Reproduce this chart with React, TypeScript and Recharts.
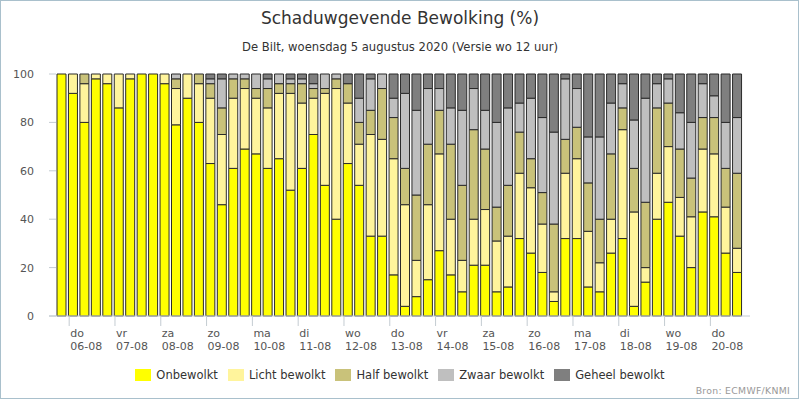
import { BarChart, Bar, XAxis, YAxis } from "recharts";

// 6-hourly forecast slots, 4 per day, 06-08 .. 20-08
const dayNames = ["do", "vr", "za", "zo", "ma", "di", "wo", "do", "vr", "za", "zo", "ma", "di", "wo", "do"];
const dayDates = ["06-08", "07-08", "08-08", "09-08", "10-08", "11-08", "12-08", "13-08", "14-08", "15-08", "16-08", "17-08", "18-08", "19-08", "20-08"];

const onbewolkt = [100, 92, 80, 98, 96, 86, 98, 100, 100, 96, 79, 90, 80, 63, 46, 61, 69, 67, 61, 65, 52, 61, 75, 54, 40, 63, 54, 33, 33, 17, 4, 8, 15, 27, 17, 10, 21, 21, 10, 12, 32, 26, 18, 6, 32, 32, 12, 10, 26, 32, 4, 14, 40, 47, 33, 20, 43, 41, 26, 18];
const lichtBewolkt = [0, 8, 16, 2, 4, 14, 2, 0, 0, 4, 15, 10, 16, 27, 29, 29, 25, 23, 25, 27, 40, 27, 15, 38, 54, 25, 17, 42, 40, 48, 42, 15, 31, 40, 23, 13, 19, 23, 21, 21, 27, 27, 20, 4, 27, 33, 23, 12, 14, 45, 39, 6, 19, 23, 16, 21, 26, 26, 19, 10];
const halfBewolkt = [0, 0, 4, 0, 0, 0, 0, 0, 0, 0, 4, 0, 4, 6, 11, 8, 4, 4, 8, 4, 4, 8, 4, 2, 4, 8, 9, 10, 21, 17, 15, 27, 25, 18, 31, 31, 37, 25, 14, 21, 17, 12, 13, 28, 14, 13, 20, 18, 27, 9, 18, 27, 27, 18, 20, 16, 13, 15, 16, 31];
const zwaarBewolkt = [0, 0, 0, 0, 0, 0, 0, 0, 0, 0, 2, 0, 0, 2, 12, 2, 2, 6, 4, 4, 2, 2, 2, 6, 2, 0, 10, 13, 6, 8, 31, 35, 23, 9, 15, 31, 17, 16, 35, 32, 12, 25, 31, 38, 25, 16, 19, 34, 21, 10, 20, 43, 10, 10, 15, 23, 14, 9, 19, 23];
const geheelBewolkt = [0, 0, 0, 0, 0, 0, 0, 0, 0, 0, 0, 0, 0, 2, 2, 0, 0, 0, 2, 0, 2, 2, 4, 0, 0, 4, 10, 2, 0, 10, 8, 15, 6, 6, 14, 15, 6, 15, 20, 14, 12, 10, 18, 24, 2, 6, 26, 26, 12, 4, 19, 10, 4, 2, 16, 20, 4, 9, 20, 18];

const yTicks = [0, 20, 40, 60, 80, 100];

const series = [
  { key: "onbewolkt", name: "Onbewolkt", color: "#ffff00" },
  { key: "licht", name: "Licht bewolkt", color: "#fff49c" },
  { key: "half", name: "Half bewolkt", color: "#c9c27a" },
  { key: "zwaar", name: "Zwaar bewolkt", color: "#bfbfbf" },
  { key: "geheel", name: "Geheel bewolkt", color: "#7f7f7f" },
];

const data = onbewolkt.map((v, i) => ({
  slot: i,
  onbewolkt: v,
  licht: lichtBewolkt[i],
  half: halfBewolkt[i],
  zwaar: zwaarBewolkt[i],
  geheel: geheelBewolkt[i],
}));

// first slot of each day carries the day label
const dayTicks = dayNames.map((_, d) => 1 + d * 4);

const FONT = "'DejaVu Sans', Verdana, sans-serif";
const AXIS_GRAY = "#c4ccd2";
const TEXT_GRAY = "#555";

function DayTick({ x, y, payload }: any) {
  const d = dayTicks.indexOf(payload.value);
  const tx = x - 4;
  return (
    <g>
      <line x1={tx} x2={tx} y1={y} y2={y + 10} stroke={AXIS_GRAY} />
      <text x={tx + 1} y={y + 21} fontSize={11} fill={TEXT_GRAY} fontFamily={FONT}>
        {dayNames[d]}
      </text>
      <text x={tx + 1} y={y + 34} fontSize={11} fill={TEXT_GRAY} fontFamily={FONT}>
        {dayDates[d]}
      </text>
    </g>
  );
}

function LeftTick({ x, y, payload }: any) {
  return (
    <g>
      <line x1={x} x2={x + 7} y1={y} y2={y} stroke={AXIS_GRAY} />
      <text x={x - 15} y={y + 4} textAnchor="end" fontSize={11} fill={TEXT_GRAY} fontFamily={FONT}>
        {payload.value}
      </text>
    </g>
  );
}

function RightTick({ x, y, payload }: any) {
  return (
    <g>
      <line x1={x - 7} x2={x} y1={y} y2={y} stroke={AXIS_GRAY} />
      <text x={x + 15} y={y + 4} textAnchor="start" fontSize={11} fill={TEXT_GRAY} fontFamily={FONT}>
        {payload.value}
      </text>
    </g>
  );
}

export default function App() {
  return (
    <div style={{ position: "relative", width: 800, height: 400, background: "#fff", fontFamily: FONT }}>
      <style>{"body{margin:0}"}</style>
      <div
        style={{
          position: "absolute",
          left: 0,
          top: 0,
          width: 799,
          height: 399,
          boxSizing: "border-box",
          border: "1px solid #a9c0cc",
          pointerEvents: "none",
        }}
      />
      <div style={{ position: "absolute", left: 0, top: 8, width: 800, textAlign: "center", fontSize: 17, color: "#333" }}>
        Schaduwgevende Bewolking (%)
      </div>
      <div style={{ position: "absolute", left: 0, top: 40, width: 800, textAlign: "center", fontSize: 11.6, color: "#333" }}>
        De Bilt, woensdag 5 augustus 2020 (Versie wo 12 uur)
      </div>

      <div style={{ position: "absolute", left: 0, top: 0 }}>
        <BarChart width={800} height={400} data={data} margin={{ top: 74, right: 0, bottom: 44, left: 0 }} barSize={9}>
          <XAxis
            dataKey="slot"
            type="category"
            ticks={dayTicks}
            interval={0}
            padding={{ left: 7, right: 7 }}
            height={40}
            tickSize={0}
            tickMargin={0}
            tickLine={false}
            axisLine={{ stroke: AXIS_GRAY }}
            tick={<DayTick />}
          />
          <YAxis
            yAxisId="left"
            orientation="left"
            width={49}
            domain={[0, 100]}
            ticks={yTicks}
            tickSize={0}
            tickMargin={0}
            tickLine={false}
            axisLine={false}
            tick={<LeftTick />}
          />
          <YAxis
            yAxisId="right"
            orientation="right"
            width={50}
            domain={[0, 100]}
            ticks={yTicks}
            tickSize={0}
            tickMargin={0}
            tickLine={false}
            axisLine={false}
            tick={<RightTick />}
          />
          {series.map((s) => (
            <Bar
              key={s.key}
              yAxisId="left"
              dataKey={s.key}
              name={s.name}
              stackId="cloud"
              fill={s.color}
              stroke="#2b2b2b"
              strokeWidth={1}
              isAnimationActive={false}
            />
          ))}
        </BarChart>
      </div>

      {/* legend */}
      <div
        style={{
          position: "absolute",
          left: 0,
          top: 368,
          width: 800,
          display: "flex",
          justifyContent: "center",
          fontSize: 11.5,
          color: "#333",
        }}
      >
        {series.map((s, i) => (
          <div
            key={s.key}
            style={{ display: "flex", alignItems: "center", marginRight: i < series.length - 1 ? 10 : 0 }}
          >
            <span style={{ display: "inline-block", width: 16, height: 12, background: s.color, marginRight: 5 }} />
            <span>{s.name}</span>
          </div>
        ))}
      </div>

      <div style={{ position: "absolute", right: 10, top: 385, fontSize: 9.3, color: "#999", letterSpacing: 0.3 }}>
        Bron: ECMWF/KNMI
      </div>
    </div>
  );
}
